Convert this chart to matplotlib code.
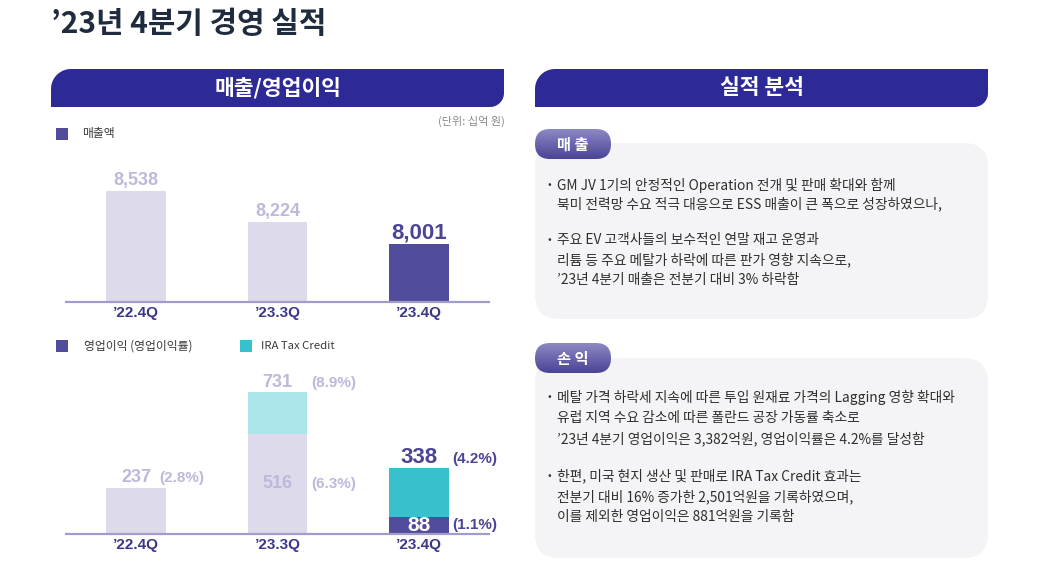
import numpy as np
import matplotlib.pyplot as plt
from matplotlib.patches import Polygon, FancyBboxPatch, Rectangle

plt.rcParams['font.family'] = ['Noto Sans CJK KR', 'DejaVu Sans']

W, H = 1039, 563

# ---- data ----
quarters = ['’22.4Q', '’23.3Q', '’23.4Q']
sales = [8538, 8224, 8001]
sales_labels = ['8,538', '8,224', '8,001']
op_base = [237, 516, 88]          # operating profit excl. IRA credit
ira_credit = [0, 215, 250]        # IRA tax credit part
op_total = [237, 731, 338]
margin_total = ['(2.8%)', '(8.9%)', '(4.2%)']
margin_base = [None, '(6.3%)', '(1.1%)']

sales_text = [
    ['GM JV 1기의 안정적인 Operation 전개 및 판매 확대와 함께',
     '북미 전력망 수요 적극 대응으로 ESS 매출이 큰 폭으로 성장하였으나,'],
    ['주요 EV 고객사들의 보수적인 연말 재고 운영과',
     '리튬 등 주요 메탈가 하락에 따른 판가 영향 지속으로,',
     '’23년 4분기 매출은 전분기 대비 3% 하락함'],
]
profit_text = [
    ['메탈 가격 하락세 지속에 따른 투입 원재료 가격의 Lagging 영향 확대와',
     '유럽 지역 수요 감소에 따른 폴란드 공장 가동률 축소로',
     '’23년 4분기 영업이익은 3,382억원, 영업이익률은 4.2%를 달성함'],
    ['한편, 미국 현지 생산 및 판매로 IRA Tax Credit 효과는',
     '전분기 대비 16% 증가한 2,501억원을 기록하였으며,',
     '이를 제외한 영업이익은 881억원을 기록함'],
]

# ---- colours ----
NAVY = '#2d2a98'
DARK = '#524c9c'
LIGHT = '#dcdaeb'
CYAN = '#38c0cd'
LCYAN = '#ace5ea'
LTXT = '#bcb9da'
DTXT = '#4b4597'
TICK = '#3b388a'
NUM = ['Liberation Sans', 'DejaVu Sans']

fig = plt.figure(figsize=(W / 100, H / 100), dpi=100)
bg = fig.add_axes([0, 0, 1, 1])
bg.set_xlim(0, W)
bg.set_ylim(H, 0)
bg.axis('off')


def banner(x0, x1, y0, y1, r1, r2, text):
    pts = []
    t = np.linspace(np.pi, 1.5 * np.pi, 20)
    pts += list(zip(x0 + r1 + r1 * np.cos(t), y0 + r1 + r1 * np.sin(t)))
    pts.append((x1, y0))
    t = np.linspace(0, 0.5 * np.pi, 20)
    pts += list(zip(x1 - r2 + r2 * np.cos(t), y1 - r2 + r2 * np.sin(t)))
    pts.append((x0, y1))
    bg.add_patch(Polygon(pts, closed=True, fc=NAVY, ec='none'))
    bg.text((x0 + x1) / 2, (y0 + y1) / 2, text, color='white', fontsize=15.5,
            fontweight='bold', ha='center', va='center')


def pill(x0, x1, y0, y1, text):
    p = FancyBboxPatch((x0, y0), x1 - x0, y1 - y0,
                       boxstyle='round,pad=0,rounding_size=15',
                       fc='none', ec='none')
    bg.add_patch(p)
    grad = np.linspace(0, 1, 50).reshape(-1, 1)
    c0 = np.array([0x8d, 0x89, 0xc4]) / 255
    c1 = np.array([0x4a, 0x44, 0x96]) / 255
    img = c0 + (c1 - c0) * grad[:, :, None]
    im = bg.imshow(img, extent=(x0, x1, y1, y0), aspect='auto', zorder=3)
    im.set_clip_path(p)
    bg.text((x0 + x1) / 2, (y0 + y1) / 2 + 1, text, color='white',
            fontsize=11, fontweight='bold', ha='center', va='center', zorder=4)


def text_box(x0, x1, y0, y1, paras, ys):
    bg.add_patch(FancyBboxPatch((x0, y0), x1 - x0, y1 - y0,
                                boxstyle='round,pad=0,rounding_size=24',
                                fc='#f4f4f6', ec='none', zorder=1))
    k = 0
    for para in paras:
        for j, line in enumerate(para):
            if j == 0:
                bg.text(548, ys[k], '•', fontsize=8, color='#333333',
                        ha='left', va='center', zorder=4)
            bg.text(557, ys[k], line, fontsize=9.9, color='#2e2e2e',
                    ha='left', va='center', zorder=4)
            k += 1


# title
bg.text(51, 24, '’23년 4분기 경영 실적', fontsize=21.5, fontweight='bold',
        color='#1f2b3e', ha='left', va='center')

banner(51, 504, 69, 107, 20, 14, '매출/영업이익')
banner(535, 988, 69, 107, 20, 14, '실적 분석')

bg.text(505, 121, '(단위: 십억 원)', fontsize=8, color='#8a8a8a',
        ha='right', va='center')

# legends
bg.add_patch(Rectangle((56, 128), 12, 12, fc=DARK, ec='none'))
bg.text(82, 134, '매출액', fontsize=8.5, color='#3a3a3a', ha='left', va='center')
bg.add_patch(Rectangle((56, 340), 12, 12, fc=DARK, ec='none'))
bg.text(84, 346, '영업이익 (영업이익률)', fontsize=8.5, color='#3a3a3a',
        ha='left', va='center')
bg.add_patch(Rectangle((240, 340), 12, 12, fc=CYAN, ec='none'))
bg.text(261, 346, 'IRA Tax Credit', fontsize=8.2, color='#3a3a3a',
        ha='left', va='center')

# right side text boxes
text_box(535, 988, 143, 319, sales_text, [185, 204, 240, 260, 280])
pill(535, 611, 129, 159, '매 출')
text_box(535, 988, 358, 558, profit_text, [397, 418, 439, 476, 497, 517])
pill(535, 611, 343, 373, '손 익')


def chart_axes(left, right, bottom, top):
    ax = fig.add_axes([left / W, 1 - bottom / H, (right - left) / W,
                       (bottom - top) / H])
    ax.patch.set_alpha(0)
    for s in ['top', 'right', 'left']:
        ax.spines[s].set_visible(False)
    ax.spines['bottom'].set_color('#a09dcc')
    ax.spines['bottom'].set_linewidth(1.6)
    ax.set_yticks([])
    ax.set_xlim(-0.495, 2.495)
    ax.set_xticks(range(len(quarters)))
    ax.set_xticklabels(quarters, fontsize=11, fontweight='bold', color=TICK,
                       family=NUM)
    ax.tick_params(axis='x', length=0, pad=3)
    return ax


x = np.arange(len(quarters))
bw = 0.424

# ---- sales chart ----
ax1 = chart_axes(66, 489, 302, 160)
ax1.set_ylim(7413, 8852)
ax1.bar(x, sales, width=bw, color=[LIGHT, LIGHT, DARK], bottom=0)
for i, v in enumerate(sales):
    last = i == len(sales) - 1
    ax1.annotate(sales_labels[i], (x[i], v), xytext=(0, 4),
                 textcoords='offset points', ha='center', va='baseline',
                 fontsize=16 if last else 13, fontweight='bold',
                 color=DTXT if last else LTXT, family=NUM)

# ---- operating profit chart ----
ax2 = chart_axes(66, 489, 534, 370)
ax2.set_ylim(0, 845)
ax2.bar(x, op_base, width=bw, color=[LIGHT, LIGHT, DARK])
ax2.bar(x, ira_credit, width=bw, bottom=op_base, color=[LCYAN, LCYAN, CYAN])

pct_dx = [16.5, 24, 24]
for i in range(len(quarters)):
    last = i == len(quarters) - 1
    col = DTXT if last else LTXT
    ax2.annotate(str(op_total[i]), (x[i], op_total[i]), xytext=(0, 4),
                 textcoords='offset points', ha='center', va='baseline',
                 fontsize=16 if last else 13, fontweight='bold', color=col,
                 family=NUM)
    ax2.annotate(margin_total[i], (x[i], op_total[i]), xytext=(pct_dx[i], 4),
                 textcoords='offset points', ha='left', va='baseline',
                 fontsize=11, fontweight='bold', color=col, family=NUM)
    if margin_base[i] is not None:
        ym = op_base[i] / 2
        ax2.text(x[i], ym, str(op_base[i]), ha='center', va='center',
                 fontsize=15 if last else 13, fontweight='bold',
                 color='white' if last else LTXT, family=NUM)
        ax2.annotate(margin_base[i], (x[i], ym), xytext=(pct_dx[i], 0),
                     textcoords='offset points', ha='left', va='center',
                     fontsize=11, fontweight='bold', color=col, family=NUM)

fig.savefig('out.png', dpi=100)
